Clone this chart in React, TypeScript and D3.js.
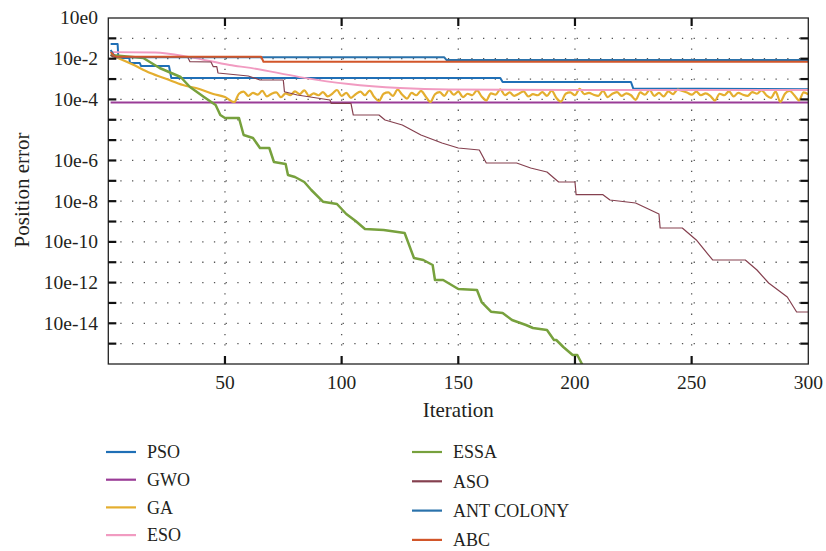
import React, { useRef, useEffect } from 'react';
import * as d3 from 'd3';

// [iteration, position error]
const PSO: [number, number][] = [
  [1, 5.3e-2], [4, 5.3e-2], [4.3, 1.08e-2], [9, 1.08e-2], [9.3, 6.15e-3], [13.5, 6.15e-3],
  [14, 4.4e-3], [26, 4.4e-3], [27, 1.13e-3], [168, 1.13e-3], [169, 7.2e-4], [224, 7.2e-4],
  [225, 3.4e-4], [300, 3.2e-4]
];

const GWO: [number, number][] = [[1, 7.05e-5], [300, 7.05e-5]];

const GA: [number, number][] = [
  [1, 1.52e-2], [10, 5.5e-3], [18, 1.99e-3], [25, 1.0e-3], [32, 5.1e-4], [39, 3.25e-4],
  [45, 1.85e-4], [50, 1.32e-4], [54, 7.46e-5],
  [56, 1.9e-4], [58, 2.4e-4], [60, 1.5e-4], [62, 2.1e-4], [64, 1.7e-4], [66, 2.6e-4],
  [68, 1.4e-4], [70, 1.9e-4], [72, 2.2e-4], [74, 1.3e-4], [76, 2.0e-4], [78, 1.6e-4],
  [80, 2.5e-4], [82, 1.8e-4], [84, 2.8e-4], [86, 1.5e-4], [88, 2.0e-4], [90, 1.6e-4],
  [92, 2.3e-4], [94, 1.4e-4], [96, 1.9e-4], [98, 2.9e-4], [100, 1.5e-4], [102, 2.1e-4],
  [104, 1.2e-4], [106, 1.8e-4], [108, 2.4e-4], [110, 1.6e-4], [112, 2.7e-4], [114, 1.3e-4],
  [116, 8.5e-5], [118, 1.9e-4], [120, 2.2e-4], [122, 1.5e-4], [124, 3.0e-4], [126, 1.7e-4],
  [128, 1.1e-4], [130, 2.1e-4], [132, 1.6e-4], [134, 2.6e-4], [136, 1.4e-4], [138, 7.5e-5],
  [140, 1.8e-4], [142, 2.3e-4], [144, 1.5e-4], [146, 2.9e-4], [148, 1.7e-4], [150, 2.4e-4],
  [152, 1.3e-4], [154, 1.9e-4], [156, 1.6e-4], [158, 2.8e-4], [160, 1.4e-4], [162, 9.0e-5],
  [164, 2.0e-4], [166, 1.7e-4], [168, 3.1e-4], [170, 1.6e-4], [172, 2.2e-4], [174, 1.5e-4],
  [176, 1.9e-4], [178, 2.5e-4], [180, 1.4e-4], [182, 1.8e-4], [184, 1.6e-4], [186, 2.3e-4],
  [188, 1.5e-4], [190, 2.7e-4], [192, 1.2e-4], [194, 7.8e-5], [196, 1.9e-4], [198, 2.2e-4],
  [200, 1.6e-4], [202, 3.3e-4], [204, 1.8e-4], [206, 2.1e-4], [208, 1.7e-4], [210, 1.5e-4],
  [212, 2.6e-4], [214, 1.3e-4], [216, 1.9e-4], [218, 2.3e-4], [220, 1.5e-4], [222, 2.0e-4],
  [224, 1.6e-4], [226, 9.5e-5], [228, 2.2e-4], [230, 1.7e-4], [232, 2.9e-4], [234, 1.5e-4],
  [236, 2.1e-4], [238, 1.4e-4], [240, 2.5e-4], [242, 1.8e-4], [244, 3.0e-4], [246, 2.6e-4],
  [248, 2.2e-4], [250, 1.7e-4], [252, 2.4e-4], [254, 1.6e-4], [256, 2.0e-4], [258, 1.5e-4],
  [260, 8.8e-5], [262, 1.9e-4], [264, 1.6e-4], [266, 2.5e-4], [268, 1.4e-4], [270, 2.1e-4],
  [272, 1.7e-4], [274, 1.5e-4], [276, 2.3e-4], [278, 1.9e-4], [280, 2.8e-4], [282, 1.6e-4],
  [284, 1.2e-4], [286, 2.4e-4], [288, 7.6e-5], [290, 1.9e-4], [292, 2.6e-4], [294, 1.6e-4],
  [296, 8.9e-5], [298, 2.2e-4], [300, 1.8e-4]
];

const ESO: [number, number][] = [
  [1, 2.1e-2], [20, 2.02e-2], [35, 1.21e-2], [52, 4.9e-3], [61, 3.5e-3], [82, 1.26e-3],
  [103, 5.72e-4], [125, 3.64e-4], [146, 3.07e-4], [200, 2.9e-4], [300, 2.9e-4]
];

const ESSA: [number, number][] = [
  [1, 1.52e-2], [15, 1.08e-2], [22, 3.49e-3], [31, 1.26e-3], [35, 4.07e-4], [41, 1.32e-4],
  [46, 5.31e-5], [48, 1.71e-5], [50, 1.22e-5], [56, 1.22e-5], [58, 1.78e-6], [62, 1.27e-6],
  [65, 4.1e-7], [69, 4.1e-7], [71, 8.41e-8], [76, 6.71e-8], [77, 1.93e-8], [80, 1.54e-8],
  [84, 8.75e-9], [87, 3.54e-9], [92, 9.42e-10], [98, 7.26e-10], [102, 2.34e-10], [106, 1.06e-10],
  [110, 4.3e-11], [118, 3.84e-11], [124, 3.06e-11], [127, 2.73e-11], [131, 1.61e-12], [135, 1.29e-12],
  [139, 7.31e-13], [140, 1.34e-13], [143.5, 1.34e-13], [150, 4.84e-14], [158, 4.32e-14], [160, 1.11e-14],
  [164, 3.72e-15], [169, 3.21e-15], [173, 1.45e-15], [179, 8.24e-16], [182, 5.87e-16], [188, 4.69e-16],
  [191, 1.51e-16], [192, 1.51e-16], [195, 6.84e-17], [199, 2.77e-17], [201, 2.77e-17], [203, 1e-17],
  [205, 3e-18]
];

const ASO: [number, number][] = [
  [1, 1.52e-2], [2, 1.21e-2], [34, 1.21e-2], [35, 7.13e-3], [44, 6.88e-3], [45, 4.05e-3],
  [46.5, 4.05e-3], [47, 1.99e-3], [60, 1.41e-3], [65, 9.0e-4], [75, 9.0e-4], [75.5, 2.39e-4],
  [81, 1.65e-4], [95, 9.35e-5], [95.5, 6.44e-5], [104, 6.44e-5], [105, 1.71e-5], [116, 1.71e-5],
  [118.6, 9.73e-6], [126, 5.53e-6], [134, 1.78e-6], [143, 7.21e-7], [150, 4.1e-7], [159, 3.27e-7],
  [162, 7.51e-8], [175, 7.51e-8], [181, 4.27e-8], [188, 2.72e-8], [193, 8.75e-9], [200, 8.75e-9],
  [200.5, 2.08e-9], [212, 2.08e-9], [215, 1.14e-9], [226, 8.13e-10], [236, 2.34e-10], [236.5, 4.81e-11],
  [246, 4.81e-11], [252, 1.24e-11], [259, 1.29e-12], [273, 1.29e-12], [278, 4.16e-13], [283, 9.55e-14],
  [291, 1.96e-14], [295, 3.59e-15], [300, 3.59e-15]
];

const ANT_COLONY: [number, number][] = [
  [1, 2.7e-2], [3, 1.17e-2], [144, 1.17e-2], [145, 8.6e-3], [300, 8.6e-3]
];

const ABC: [number, number][] = [
  [1, 2.1e-2], [3, 1.26e-2], [65.5, 1.26e-2], [66.5, 7.1e-3], [300, 7.1e-3]
];

const xTicks = [50, 100, 150, 200, 250, 300];
const yTickValues = [1, 1e-2, 1e-4, 1e-7, 1e-9, 1e-11, 1e-13, 1e-15];
const yTickLabels = ['10e0', '10e-2', '10e-4', '10e-6', '10e-8', '10e-10', '10e-12', '10e-14'];
const decades = d3.range(0, 18).map(k => Math.pow(10, -k));

const series = [
  { name: 'PSO', data: PSO, color: '#1f6fb6', width: 2, smooth: false },
  { name: 'GWO', data: GWO, color: '#9a3c97', width: 2, smooth: false },
  { name: 'GA', data: GA, color: '#e4ae2f', width: 2.2, smooth: true },
  { name: 'ESO', data: ESO, color: '#f19bc1', width: 1.8, smooth: true },
  { name: 'ESSA', data: ESSA, color: '#77a13d', width: 2.5, smooth: false },
  { name: 'ASO', data: ASO, color: '#85404f', width: 1.2, smooth: false },
  { name: 'ANT COLONY', data: ANT_COLONY, color: '#2a72ab', width: 2, smooth: false },
  { name: 'ABC', data: ABC, color: '#d2562a', width: 2, smooth: false }
];

const FONT = '"Liberation Serif", "Times New Roman", serif';

const App = () => {
  const ref = useRef<SVGSVGElement>(null);

  useEffect(() => {
    const svg = d3.select(ref.current);
    svg.selectAll('*').remove();

    const left = 108.3, right = 808.3, top = 18, bottom = 364;
    const x = d3.scaleLinear().domain([0, 300]).range([left, right]);
    const y = d3.scaleLog().domain([1, 1e-17]).range([top, bottom]);

    svg.append('rect').attr('width', 826).attr('height', 551).attr('fill', '#fff');

    svg.append('defs').append('clipPath').attr('id', 'plot-clip')
      .append('rect')
      .attr('x', left).attr('y', top)
      .attr('width', right - left).attr('height', bottom - top);

    // dotted grid
    const grid = svg.append('g').attr('stroke', '#555').attr('stroke-width', 1.3);
    grid.selectAll('line.h')
      .data(decades.slice(1, -1))
      .enter().append('line')
      .attr('x1', left + 12).attr('x2', right - 6)
      .attr('y1', d => y(d)).attr('y2', d => y(d))
      .attr('stroke-dasharray', '1.3 10.4');
    grid.selectAll('line.v')
      .data(xTicks.slice(0, -1))
      .enter().append('line')
      .attr('x1', d => x(d)).attr('x2', d => x(d))
      .attr('y1', top + 10).attr('y2', bottom - 10)
      .attr('stroke-dasharray', '1.3 8.9');

    // lines
    const plot = svg.append('g').attr('clip-path', 'url(#plot-clip)');
    series.forEach(s => {
      const line = d3.line<[number, number]>()
        .x(d => x(d[0]))
        .y(d => y(d[1]))
        .curve(s.smooth ? d3.curveMonotoneX : d3.curveLinear);
      plot.append('path')
        .datum(s.data)
        .attr('fill', 'none')
        .attr('stroke', s.color)
        .attr('stroke-width', s.width)
        .attr('stroke-linejoin', 'round')
        .attr('d', line);
    });

    // frame and ticks
    svg.append('rect')
      .attr('x', left).attr('y', top)
      .attr('width', right - left).attr('height', bottom - top)
      .attr('fill', 'none').attr('stroke', '#222').attr('stroke-width', 1.3);

    const ticks = svg.append('g').attr('stroke', '#111').attr('stroke-width', 2.2);
    decades.slice(1, -1).forEach(d => {
      ticks.append('line').attr('x1', left).attr('x2', left + 8).attr('y1', y(d)).attr('y2', y(d));
      ticks.append('line').attr('x1', right - 8).attr('x2', right).attr('y1', y(d)).attr('y2', y(d));
    });
    xTicks.slice(0, -1).forEach(d => {
      ticks.append('line').attr('x1', x(d)).attr('x2', x(d)).attr('y1', bottom).attr('y2', bottom - 8);
      ticks.append('line').attr('x1', x(d)).attr('x2', x(d)).attr('y1', top).attr('y2', top + 8);
    });

    const text = svg.append('g')
      .attr('font-family', FONT).attr('font-size', 18).attr('fill', '#231f20');

    text.selectAll('text.xt')
      .data(xTicks)
      .enter().append('text')
      .attr('x', d => x(d)).attr('y', 389)
      .attr('font-size', 19.5)
      .attr('text-anchor', 'middle')
      .text(d => d);

    text.selectAll('text.yt')
      .data(yTickValues)
      .enter().append('text')
      .attr('x', 98).attr('y', d => y(d))
      .attr('font-size', 19.5)
      .attr('dy', '0.33em')
      .attr('text-anchor', 'end')
      .text((d, i) => yTickLabels[i]);

    text.append('text')
      .attr('x', (left + right) / 2).attr('y', 417)
      .attr('font-size', 21)
      .attr('text-anchor', 'middle')
      .text('Iteration');

    text.append('text')
      .attr('transform', 'translate(29,190) rotate(-90)')
      .attr('font-size', 21)
      .attr('text-anchor', 'middle')
      .text('Position error');

    // legend
    series.forEach((s, i) => {
      const col = i < 4 ? 0 : 1;
      const row = i % 4;
      const lx = col === 0 ? 106 : 412;
      const ly = col === 0 ? 452 + row * 27.7 : 452 + row * 29.3;
      svg.append('line')
        .attr('x1', lx).attr('x2', lx + 30)
        .attr('y1', ly).attr('y2', ly)
        .attr('stroke', s.color).attr('stroke-width', 2.2);
      text.append('text')
        .attr('x', lx + 41).attr('y', ly)
        .attr('dy', '0.35em')
        .text(s.name);
    });
  }, []);

  return (
    <svg ref={ref} width={826} height={551} style={{ position: 'absolute', left: 0, top: 0 }}></svg>
  );
};

export default App;
